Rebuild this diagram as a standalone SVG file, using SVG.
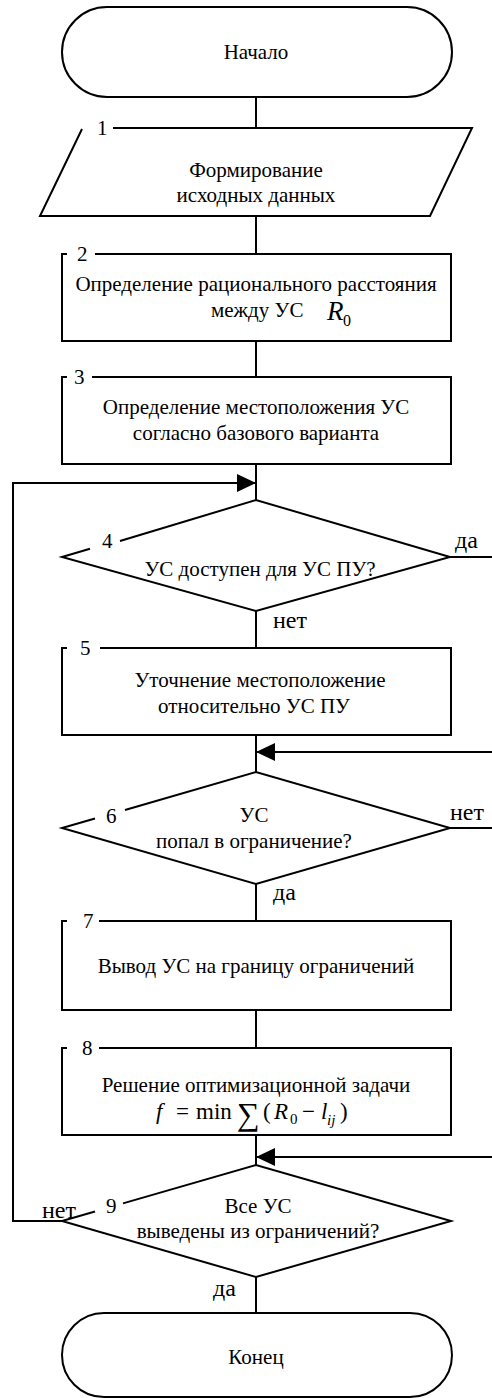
<svg xmlns="http://www.w3.org/2000/svg" width="492" height="1398" viewBox="0 0 492 1398" font-family="'Liberation Serif', 'Times New Roman', serif">
<style>
.s{fill:none;stroke:#000;stroke-width:2;stroke-linejoin:miter}
text{font-family:'Liberation Serif','Times New Roman',serif;font-size:21px;fill:#000}
.c{text-anchor:middle}
.lbl{font-size:21px}
.yn{font-size:24px}
.it{font-style:italic}
.f{font-size:23px}
.sub{font-size:15px}
.sum{font-size:32px}
.rr{font-size:27px}
.r0{font-size:16px}
</style>
<defs>
<marker id="ah" markerWidth="19" markerHeight="18" refX="19" refY="9" orient="auto" markerUnits="userSpaceOnUse">
<path d="M0,0 L19,9 L0,18 Z" fill="#000"/>
</marker>
</defs>
<rect x="0" y="0" width="492" height="1398" fill="#fff"/>

<g id="connectors">
<line class="s" x1="256" y1="97" x2="256" y2="128"/>
<line class="s" x1="256" y1="216" x2="256" y2="254"/>
<line class="s" x1="256" y1="341" x2="256" y2="377"/>
<line class="s" x1="256" y1="464" x2="256" y2="500"/>
<polyline class="s" points="62,1221 13,1221 13,483 256,483" marker-end="url(#ah)"/>
<line class="s" x1="450" y1="557" x2="492" y2="557"/>
<line class="s" x1="256" y1="611" x2="256" y2="648"/>
<line class="s" x1="256" y1="735" x2="256" y2="772"/>
<line class="s" x1="492" y1="752" x2="256" y2="752" marker-end="url(#ah)"/>
<line class="s" x1="450" y1="828" x2="492" y2="828"/>
<line class="s" x1="256" y1="884" x2="256" y2="921"/>
<line class="s" x1="256" y1="1010" x2="256" y2="1048"/>
<line class="s" x1="256" y1="1135" x2="256" y2="1165"/>
<line class="s" x1="492" y1="1157" x2="256" y2="1157" marker-end="url(#ah)"/>
<line class="s" x1="256" y1="1277" x2="256" y2="1313"/>
<text x="455" y="548" class="yn">да</text>
<text x="273" y="628" class="yn">нет</text>
<text x="450" y="820" class="yn">нет</text>
<text x="273" y="900" class="yn">да</text>
<text x="42" y="1218" class="yn">нет</text>
<text x="213" y="1296" class="yn">да</text>
</g>

<g id="start">
<rect class="s" x="62" y="7" width="390" height="90" rx="45" ry="45"/>
<text x="256" y="59" class="c">Начало</text>
</g>

<g id="n1">
<path class="s" d="M113,128 L472,128 L430,216 L40,216 L82,129"/>
<text x="97" y="135" class="lbl">1</text>
<text x="256" y="177" class="c">Формирование</text>
<text x="256" y="202" class="c">исходных данных</text>
</g>

<g id="n2">
<path class="s" d="M95,254 L451,254 L451,341 L62,341 L62,254 L67,254"/>
<text x="77" y="261" class="lbl">2</text>
<text x="256" y="291" class="c">Определение рационального расстояния</text>
<text x="211" y="317">между УС</text>
<text class="rr it" x="327" y="320">R</text>
<text class="r0" x="343" y="326">0</text>
</g>

<g id="n3">
<path class="s" d="M92,377 L451,377 L451,464 L62,464 L62,377 L67,377"/>
<text x="74" y="384" class="lbl">3</text>
<text x="256" y="414" class="c">Определение местоположения УС</text>
<text x="256" y="440" class="c">согласно базового варианта</text>
</g>

<g id="n4">
<path class="s" d="M120,541 L256,500 L450,557 L256,611 L62,557 L90,548.8"/>
<text x="102" y="548" class="lbl">4</text>
<text x="260" y="576" class="c">УС доступен для УС ПУ?</text>
</g>

<g id="n5">
<path class="s" d="M100,648 L451,648 L451,735 L62,735 L62,648 L67,648"/>
<text x="80" y="655" class="lbl">5</text>
<text x="260" y="687" class="c">Уточнение местоположение</text>
<text x="254" y="713" class="c">относительно УС ПУ</text>
</g>

<g id="n6">
<path class="s" d="M125,810 L256,772 L450,828 L256,884 L62,828 L95,818.5"/>
<text x="106" y="823" class="lbl">6</text>
<text x="254" y="822" class="c">УС</text>
<text x="254" y="848" class="c">попал в ограничение?</text>
</g>

<g id="n7">
<path class="s" d="M99,921 L451,921 L451,1010 L62,1010 L62,921 L67,921"/>
<text x="83" y="928" class="lbl">7</text>
<text x="256" y="973" class="c">Вывод УС на границу ограничений</text>
</g>

<g id="n8">
<path class="s" d="M99,1048 L451,1048 L451,1135 L62,1135 L62,1048 L67,1048"/>
<text x="82" y="1055" class="lbl">8</text>
<text x="256" y="1092" class="c">Решение оптимизационной задачи</text>
<text class="f it" x="156" y="1119">f</text>
<text class="f" x="176" y="1119">=</text>
<text class="f" x="196" y="1119">min</text>
<text class="sum" x="237" y="1125">∑</text>
<text class="f" x="263" y="1119">(</text>
<text class="f it" x="274" y="1119">R</text>
<text class="sub" x="290" y="1124">0</text>
<text class="f" x="302" y="1119">−</text>
<text class="f it" x="321" y="1119">l</text>
<text class="sub it" x="327" y="1125">ij</text>
<text class="f" x="340" y="1119">)</text>
</g>

<g id="n9">
<path class="s" d="M123,1203.4 L256,1165 L451,1221 L256,1277 L62,1221 L95,1211.5"/>
<text x="106" y="1213" class="lbl">9</text>
<text x="258" y="1213" class="c">Все УС</text>
<text x="258" y="1238" class="c">выведены из ограничений?</text>
</g>

<g id="end">
<rect class="s" x="62" y="1313" width="390" height="84" rx="42" ry="42"/>
<text x="256" y="1364" class="c">Конец</text>
</g>
</svg>
